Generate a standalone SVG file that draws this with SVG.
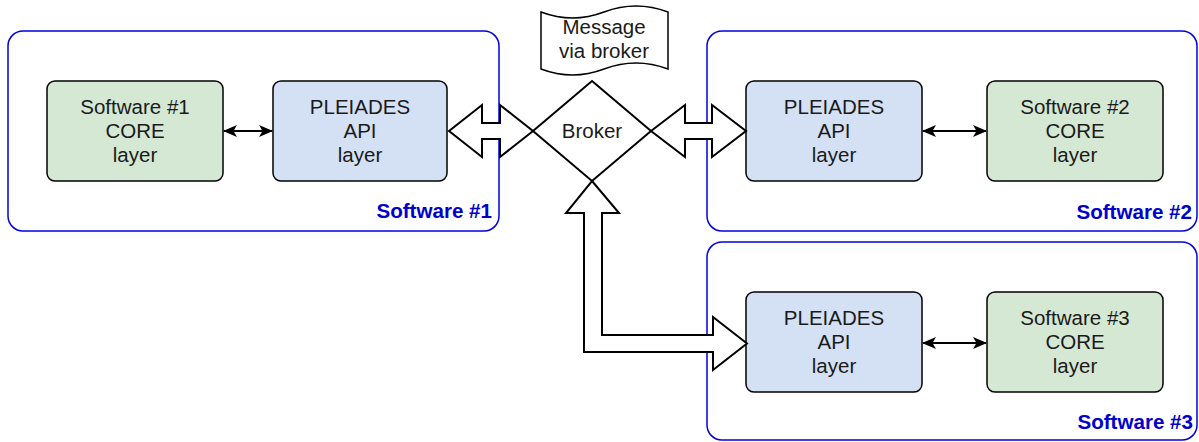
<svg xmlns="http://www.w3.org/2000/svg" width="1199" height="442" viewBox="0 0 1199 442">
<style>
.container{fill:#ffffff;stroke:#0000dd;stroke-width:1.5}
.core{fill:#d5e8d4;stroke:#000;stroke-width:1.5}
.api{fill:#d4e1f5;stroke:#000;stroke-width:1.5}
.t{font-family:"Liberation Sans",Arial,sans-serif;font-size:20.5px;fill:#1a1a1a;text-anchor:middle}
.lbl{font-family:"Liberation Sans",Arial,sans-serif;font-size:20.6px;font-weight:bold;fill:#0000cc;text-anchor:end}
.block{fill:#fff;stroke:#000;stroke-width:2;stroke-linejoin:miter}
.link{stroke:#000;stroke-width:2;fill:none}
</style>
<defs>
<marker id="ah" viewBox="0 0 14 12" refX="13" refY="6" markerWidth="14" markerHeight="12" markerUnits="userSpaceOnUse" orient="auto-start-reverse">
<path d="M0,0 L14,6 L0,12 L3.5,6 Z" fill="#000"/>
</marker>
</defs>
<rect width="1199" height="442" fill="#fff"/>
<g id="software1">
<rect class="container" x="8" y="31" width="491" height="200" rx="15"/>
<text class="lbl" x="492" y="218">Software #1</text>
</g>
<g id="software2">
<rect class="container" x="707" y="31" width="490" height="200" rx="15"/>
<text class="lbl" x="1192" y="219">Software #2</text>
</g>
<g id="software3">
<rect class="container" x="707" y="242" width="490" height="198" rx="15"/>
<text class="lbl" x="1193" y="429">Software #3</text>
</g>
<g id="core1">
<rect class="core" x="47" y="81" width="176" height="100" rx="8"/>
<text class="t" x="135" y="114">Software #1</text>
<text class="t" x="135" y="138">CORE</text>
<text class="t" x="135" y="162">layer</text>
</g>
<g id="api1">
<rect class="api" x="273" y="81" width="174" height="100" rx="8"/>
<text class="t" x="360" y="114">PLEIADES</text>
<text class="t" x="360" y="138">API</text>
<text class="t" x="360" y="162">layer</text>
</g>
<g id="api2">
<rect class="api" x="746" y="81" width="176" height="100" rx="8"/>
<text class="t" x="834" y="114">PLEIADES</text>
<text class="t" x="834" y="138">API</text>
<text class="t" x="834" y="162">layer</text>
</g>
<g id="core2">
<rect class="core" x="987" y="81" width="176" height="100" rx="8"/>
<text class="t" x="1075" y="114">Software #2</text>
<text class="t" x="1075" y="138">CORE</text>
<text class="t" x="1075" y="162">layer</text>
</g>
<g id="api3">
<rect class="api" x="746" y="292" width="176" height="100" rx="8"/>
<text class="t" x="834" y="325">PLEIADES</text>
<text class="t" x="834" y="349">API</text>
<text class="t" x="834" y="373">layer</text>
</g>
<g id="core3">
<rect class="core" x="987" y="292" width="176" height="100" rx="8"/>
<text class="t" x="1075" y="325">Software #3</text>
<text class="t" x="1075" y="349">CORE</text>
<text class="t" x="1075" y="373">layer</text>
</g>
<g id="broker">
<path d="M592,81 L651,131 L592,181 L533,131 Z" fill="#fff" stroke="#000" stroke-width="2"/>
<text class="t" x="592" y="138">Broker</text>
</g>
<g id="message">
<path d="M541,12 Q572.5,24 604,12 Q636,0 668,12 L668,69 Q636,57 604,69 Q572.5,81 541,69 Z" fill="#fff" stroke="#000" stroke-width="1.5"/>
<text class="t" x="604" y="34">Message</text>
<text class="t" x="604" y="58">via broker</text>
</g>
<g id="connectors">
<line class="link" x1="224" y1="131" x2="272" y2="131" marker-start="url(#ah)" marker-end="url(#ah)"/>
<line class="link" x1="923" y1="131" x2="986" y2="131" marker-start="url(#ah)" marker-end="url(#ah)"/>
<line class="link" x1="923" y1="343" x2="986" y2="343" marker-start="url(#ah)" marker-end="url(#ah)"/>
<path class="block" d="M449,131 L482,105 L482,123 L500,123 L500,105 L533,131 L500,157 L500,139 L482,139 L482,157 Z"/>
<path class="block" d="M651,131 L685,105 L685,123 L712,123 L712,105 L746,131 L712,157 L712,139 L685,139 L685,157 Z"/>
<path class="block" d="M592,181 L619,213 L602,213 L602,335 L713,335 L713,317 L747,343.5 L713,370 L713,352 L584,352 L584,213 L566,213 Z"/>
</g>
</svg>
